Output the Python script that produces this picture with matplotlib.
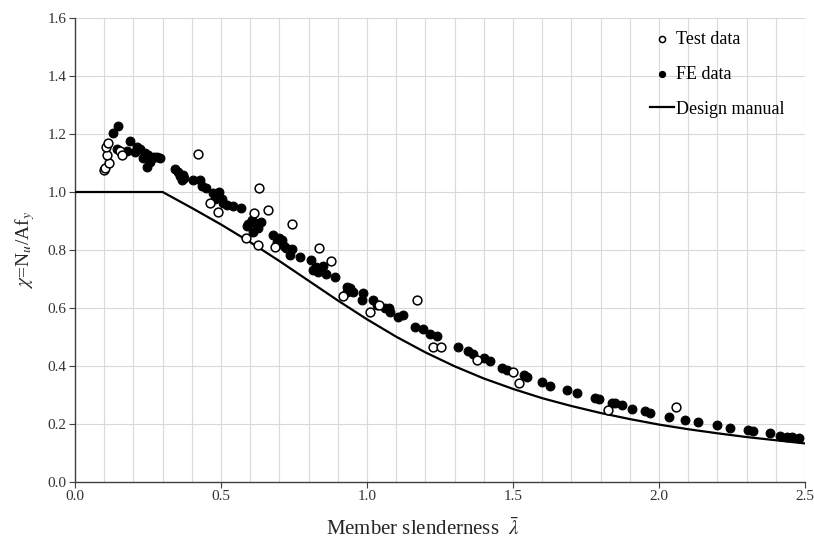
import numpy as np
import matplotlib
matplotlib.use("Agg")
import matplotlib.pyplot as plt
from matplotlib.ticker import MultipleLocator

plt.rcParams["font.family"] = ["Liberation Serif", "DejaVu Serif"]
plt.rcParams["mathtext.fontset"] = "stix"

# --- test results (open circles) ---
test_lam = [0.100, 0.104, 0.115, 0.111, 0.107, 0.113, 0.155, 0.160, 0.422, 0.461,
            0.490, 0.587, 0.614, 0.626, 0.630, 0.661, 0.685, 0.742, 0.837, 0.877,
            0.919, 1.010, 1.042, 1.170, 1.227, 1.252, 1.375, 1.499, 1.521, 1.825, 2.057]
test_chi = [1.075, 1.083, 1.100, 1.128, 1.156, 1.170, 1.140, 1.128, 1.131, 0.963,
            0.932, 0.841, 0.928, 0.818, 1.015, 0.938, 0.811, 0.890, 0.807, 0.762,
            0.641, 0.586, 0.610, 0.626, 0.466, 0.464, 0.420, 0.380, 0.340, 0.248, 0.258]

# --- finite element results (filled dots) ---
fe_lam = [0.131, 0.148, 0.143, 0.177, 0.187, 0.211, 0.206, 0.222, 0.234, 0.240,
          0.251, 0.246, 0.257, 0.263, 0.270, 0.280, 0.291,
          0.342, 0.354, 0.360, 0.365, 0.371, 0.372, 0.405, 0.428, 0.434, 0.447,
          0.474, 0.494, 0.480, 0.502, 0.508, 0.522, 0.542, 0.567,
          0.588, 0.594, 0.605, 0.616, 0.628, 0.611, 0.637, 0.679, 0.700, 0.691,
          0.708, 0.716, 0.722, 0.742, 0.736, 0.771, 0.808, 0.816, 0.827, 0.848,
          0.833, 0.858, 0.890,
          0.930, 0.942, 0.953, 0.930, 0.987, 0.982, 1.022, 1.033, 1.062, 1.075,
          1.080, 1.107, 1.124, 1.164, 1.193, 1.216, 1.240,
          1.313, 1.347, 1.362, 1.399, 1.421, 1.464, 1.478, 1.538, 1.547, 1.600,
          1.627, 1.684, 1.718, 1.781, 1.796,
          1.838, 1.849, 1.872, 1.906, 1.952, 1.969, 2.035, 2.089, 2.135, 2.197,
          2.243, 2.306, 2.323, 2.380, 2.414, 2.437, 2.454, 2.481]
fe_chi = [1.202, 1.229, 1.147, 1.142, 1.177, 1.156, 1.137, 1.150, 1.116, 1.133,
          1.128, 1.087, 1.105, 1.116, 1.122, 1.120, 1.118,
          1.080, 1.070, 1.055, 1.043, 1.058, 1.047, 1.041, 1.040, 1.020, 1.015,
          0.998, 1.000, 0.976, 0.975, 0.962, 0.956, 0.952, 0.946,
          0.882, 0.888, 0.903, 0.892, 0.875, 0.863, 0.895, 0.852, 0.840, 0.826,
          0.834, 0.815, 0.806, 0.802, 0.783, 0.777, 0.765, 0.731, 0.742, 0.745,
          0.725, 0.718, 0.708,
          0.673, 0.670, 0.656, 0.656, 0.653, 0.628, 0.626, 0.610, 0.600, 0.600,
          0.587, 0.568, 0.576, 0.536, 0.529, 0.510, 0.502,
          0.465, 0.451, 0.441, 0.426, 0.416, 0.392, 0.387, 0.369, 0.363, 0.345,
          0.332, 0.316, 0.306, 0.289, 0.285,
          0.271, 0.271, 0.266, 0.252, 0.245, 0.237, 0.223, 0.214, 0.208, 0.197,
          0.187, 0.179, 0.177, 0.168, 0.160, 0.156, 0.156, 0.153]

# --- design manual buckling curve ---
design_lam = [0.0, 0.3, 0.4, 0.5, 0.6, 0.7, 0.8, 0.9, 1.0, 1.1, 1.2, 1.3, 1.4,
              1.5, 1.6, 1.7, 1.8, 1.9, 2.0, 2.1, 2.2, 2.3, 2.4, 2.5]
design_chi = [1.000, 1.000, 0.945, 0.888, 0.827, 0.762, 0.694, 0.626, 0.561, 0.501,
              0.447, 0.399, 0.357, 0.321, 0.289, 0.262, 0.238, 0.217, 0.198, 0.182,
              0.168, 0.155, 0.144, 0.133]

fig = plt.figure(figsize=(8.14, 5.42), dpi=100)
ax = fig.add_axes([75 / 814, 60 / 542, 730 / 814, 464 / 542])

ax.plot(design_lam, design_chi, color="black", lw=1.6, label="Design manual", zorder=3)
ax.scatter(fe_lam, fe_chi, s=40, color="black", edgecolor="black", lw=0.8,
           label="FE data", zorder=4)
ax.scatter(test_lam, test_chi, s=40, facecolor="white", edgecolor="black", lw=1.1,
           label="Test data", zorder=5)

ax.set_xlim(0, 2.5)
ax.set_ylim(0, 1.6)
ax.xaxis.set_major_locator(MultipleLocator(0.5))
ax.xaxis.set_minor_locator(MultipleLocator(0.1))
ax.yaxis.set_major_locator(MultipleLocator(0.2))
ax.xaxis.set_major_formatter(plt.FormatStrFormatter("%.1f"))
ax.yaxis.set_major_formatter(plt.FormatStrFormatter("%.1f"))

ax.grid(True, which="major", color="#d9d9d9", lw=0.8)
ax.grid(True, which="minor", axis="x", color="#d9d9d9", lw=0.8)
ax.set_axisbelow(True)
for side in ("top", "right"):
    ax.spines[side].set_visible(False)
for side in ("left", "bottom"):
    ax.spines[side].set_color("#404040")
    ax.spines[side].set_linewidth(1.0)
ax.tick_params(which="major", direction="out", length=4, color="#404040",
               labelsize=11, labelcolor="#333333", pad=2)
ax.tick_params(which="minor", length=0)

ax.set_xlabel(r"Member slenderness  $\bar{\lambda}$", fontsize=15, color="#262626")
ax.xaxis.set_label_coords(0.477, -0.078)
ax.set_ylabel(r"$\chi$=N$_u$/Af$_y$", fontsize=14, color="#262626", labelpad=8)

handles, labels = ax.get_legend_handles_labels()
order = [2, 1, 0]
ax.legend([handles[i] for i in order], [labels[i] for i in order],
          loc="upper left", bbox_to_anchor=(0.765, 1.008), frameon=False,
          fontsize=13, markerscale=0.7, handlelength=1.35, handletextpad=0.1,
          labelspacing=1.0)

fig.savefig("out.png", dpi=100)
